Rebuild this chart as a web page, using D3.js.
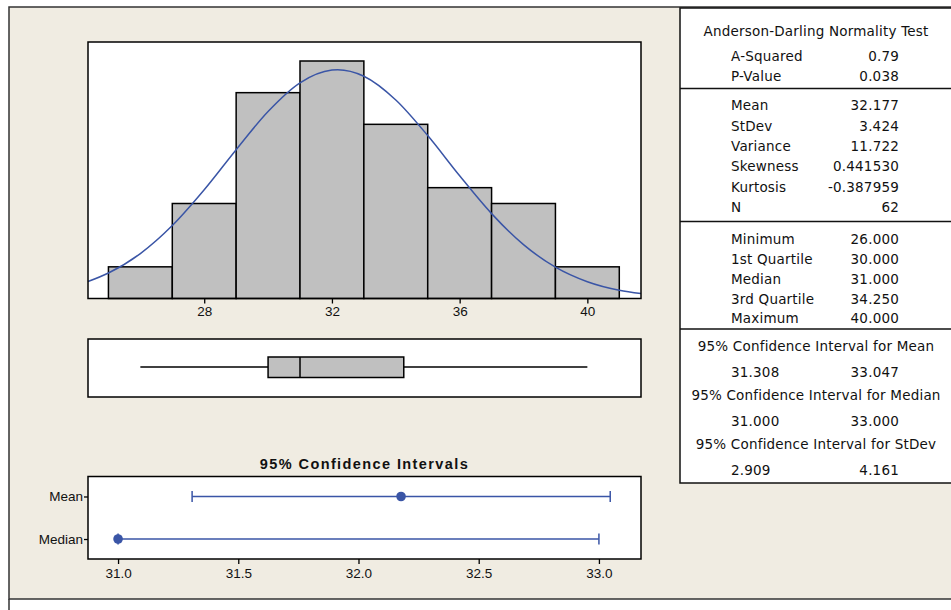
<!DOCTYPE html>
<html>
<head>
<meta charset="utf-8">
<script src="https://cdn.jsdelivr.net/npm/d3@7"></script>
<style>
  body { margin: 0; background: #fff; }
  svg text { fill: #111; }
  .narrow { font-family: "Liberation Sans Narrow", "Arial Narrow", "Liberation Sans", sans-serif; font-size: 13.5px; }
  .tbl { font-family: "DejaVu Sans", Verdana, sans-serif; font-size: 13.5px; letter-spacing: 0.2px; }
</style>
</head>
<body>
<svg id="vis" width="951" height="610"></svg>
<script>
// histogram bins and counts
var binEdges = [25, 27, 29, 31, 33, 35, 37, 39, 41];
var binCounts = [2, 6, 13, 15, 11, 7, 6, 2];
var histTicks = [28, 32, 36, 40];

// fitted normal curve (in counts)
var fitX = [24.36, 25, 26, 27, 28, 29, 30, 31, 32, 32.18, 33, 34, 35, 36, 37, 38, 39, 40, 41, 41.68];
var fitY = [1.07, 1.61, 2.84, 4.61, 6.87, 9.40, 11.81, 13.62, 14.43, 14.45, 14.04, 12.54, 10.29, 7.75, 5.36, 3.40, 1.98, 1.06, 0.52, 0.31];

// boxplot: min, q1, median, q3, max
var boxFive = [26, 30, 31, 34.25, 40];

// confidence intervals
var ciRows = ["Mean", "Median"];
var ciLow = [31.308, 31.0];
var ciHigh = [33.047, 33.0];
var ciPoint = [32.177, 31.0];
var ciTicks = [31.0, 31.5, 32.0, 32.5, 33.0];

// summary table
var adLabels = ["A-Squared", "P-Value"];
var adValues = ["0.79", "0.038"];
var momLabels = ["Mean", "StDev", "Variance", "Skewness", "Kurtosis", "N"];
var momValues = ["32.177", "3.424", "11.722", "0.441530", "-0.387959", "62"];
var qLabels = ["Minimum", "1st Quartile", "Median", "3rd Quartile", "Maximum"];
var qValues = ["26.000", "30.000", "31.000", "34.250", "40.000"];
var ciHeads = ["95% Confidence Interval for Mean", "95% Confidence Interval for Median", "95% Confidence Interval for StDev"];
var ciLoText = ["31.308", "31.000", "2.909"];
var ciHiText = ["33.047", "33.000", "4.161"];

var BLUE = "#3a55a6";
var vis = d3.select("#vis");

// background panel
vis.append("rect").attr("x", 9).attr("y", 7).attr("width", 950).attr("height", 592)
  .attr("fill", "#f0ece2").attr("stroke", "#333").attr("stroke-width", 1.5);
vis.append("line").attr("x1", 9).attr("x2", 9).attr("y1", 599).attr("y2", 610)
  .attr("stroke", "#333").attr("stroke-width", 1.5);

// ---- histogram ----
var H = {left: 88, right: 641, top: 42, bottom: 298.5};
var xScale = d3.scaleLinear().domain([24.36, 41.68]).range([H.left, H.right]);
var yScale = d3.scaleLinear().domain([0, 16.2]).range([H.bottom, H.top]);

vis.append("rect").attr("x", H.left).attr("y", H.top)
  .attr("width", H.right - H.left).attr("height", H.bottom - H.top)
  .attr("fill", "#fff");

vis.selectAll("rect.bar").data(binCounts).enter().append("rect")
  .attr("class", "bar")
  .attr("x", function(d, i) { return xScale(binEdges[i]); })
  .attr("width", function(d, i) { return xScale(binEdges[i + 1]) - xScale(binEdges[i]); })
  .attr("y", function(d) { return yScale(d); })
  .attr("height", function(d) { return yScale(0) - yScale(d); })
  .attr("fill", "#c0c0c0").attr("stroke", "#000").attr("stroke-width", 1.5);

var lineGen = d3.line()
  .x(function(d, i) { return xScale(fitX[i]); })
  .y(function(d) { return yScale(d); })
  .curve(d3.curveMonotoneX);
vis.append("path").attr("d", lineGen(fitY))
  .attr("fill", "none").attr("stroke", BLUE).attr("stroke-width", 1.5);

vis.append("rect").attr("x", H.left).attr("y", H.top)
  .attr("width", H.right - H.left).attr("height", H.bottom - H.top)
  .attr("fill", "none").attr("stroke", "#000").attr("stroke-width", 1.5);

var xAxis = d3.axisBottom(xScale).tickValues(histTicks).tickSize(5).tickPadding(3).tickSizeOuter(0);
var gx = vis.append("g").attr("class", "narrow")
  .attr("transform", "translate(0," + H.bottom + ")").call(xAxis);
gx.select(".domain").remove();
gx.selectAll("line").attr("stroke", "#000").attr("stroke-width", 1.3);
gx.selectAll("text").attr("font-size", 13.5).attr("fill", "#111");

// ---- boxplot ----
var B = {top: 339, bottom: 397, mid: 367, boxTop: 357, boxBot: 377.5};
vis.append("rect").attr("x", H.left).attr("y", B.top)
  .attr("width", H.right - H.left).attr("height", B.bottom - B.top)
  .attr("fill", "#fff").attr("stroke", "#000").attr("stroke-width", 1.5);
vis.append("line").attr("x1", xScale(boxFive[0])).attr("x2", xScale(boxFive[1]))
  .attr("y1", B.mid).attr("y2", B.mid).attr("stroke", "#000").attr("stroke-width", 1.3);
vis.append("line").attr("x1", xScale(boxFive[3])).attr("x2", xScale(boxFive[4]))
  .attr("y1", B.mid).attr("y2", B.mid).attr("stroke", "#000").attr("stroke-width", 1.3);
vis.append("rect").attr("x", xScale(boxFive[1])).attr("y", B.boxTop)
  .attr("width", xScale(boxFive[3]) - xScale(boxFive[1])).attr("height", B.boxBot - B.boxTop)
  .attr("fill", "#c0c0c0").attr("stroke", "#000").attr("stroke-width", 1.5);
vis.append("line").attr("x1", xScale(boxFive[2])).attr("x2", xScale(boxFive[2]))
  .attr("y1", B.boxTop).attr("y2", B.boxBot).attr("stroke", "#000").attr("stroke-width", 1.5);

// ---- confidence intervals ----
var C = {top: 476.5, bottom: 559};
var ciX = d3.scaleLinear().domain([30.875, 33.175]).range([H.left, H.right]);
var ciY = d3.scalePoint().domain(ciRows).range([C.top, C.bottom]).padding(0.47);

vis.append("text").attr("x", (H.left + H.right) / 2).attr("y", 469)
  .attr("text-anchor", "middle")
  .style("font-family", "'Liberation Sans', Arial, sans-serif")
  .style("font-size", "14.5px").style("font-weight", "bold").style("letter-spacing", "1.4px")
  .text("95% Confidence Intervals");

vis.append("rect").attr("x", H.left).attr("y", C.top)
  .attr("width", H.right - H.left).attr("height", C.bottom - C.top)
  .attr("fill", "#fff").attr("stroke", "#000").attr("stroke-width", 1.5);

var ci = vis.selectAll("g.ci").data(ciRows).enter().append("g").attr("class", "ci");
ci.append("line")
  .attr("x1", function(d, i) { return ciX(ciLow[i]); })
  .attr("x2", function(d, i) { return ciX(ciHigh[i]); })
  .attr("y1", function(d) { return ciY(d); }).attr("y2", function(d) { return ciY(d); })
  .attr("stroke", BLUE).attr("stroke-width", 1.5);
ci.append("line")
  .attr("x1", function(d, i) { return ciX(ciLow[i]); })
  .attr("x2", function(d, i) { return ciX(ciLow[i]); })
  .attr("y1", function(d) { return ciY(d) - 5.5; }).attr("y2", function(d) { return ciY(d) + 5.5; })
  .attr("stroke", BLUE).attr("stroke-width", 1.5);
ci.append("line")
  .attr("x1", function(d, i) { return ciX(ciHigh[i]); })
  .attr("x2", function(d, i) { return ciX(ciHigh[i]); })
  .attr("y1", function(d) { return ciY(d) - 5.5; }).attr("y2", function(d) { return ciY(d) + 5.5; })
  .attr("stroke", BLUE).attr("stroke-width", 1.5);
ci.append("circle")
  .attr("cx", function(d, i) { return ciX(ciPoint[i]); })
  .attr("cy", function(d) { return ciY(d); })
  .attr("r", 4.8).attr("fill", BLUE);

var cxAxis = d3.axisBottom(ciX).tickValues(ciTicks).tickFormat(d3.format(".1f"))
  .tickSize(5).tickPadding(4).tickSizeOuter(0);
var gcx = vis.append("g").attr("class", "narrow")
  .attr("transform", "translate(0," + C.bottom + ")").call(cxAxis);
gcx.select(".domain").remove();
gcx.selectAll("line").attr("stroke", "#000").attr("stroke-width", 1.3);
gcx.selectAll("text").attr("font-size", 13.5).attr("fill", "#111");

var cyAxis = d3.axisLeft(ciY).tickSize(4).tickPadding(1).tickSizeOuter(0);
var gcy = vis.append("g").attr("class", "narrow")
  .attr("transform", "translate(" + H.left + ",0)").call(cyAxis);
gcy.select(".domain").remove();
gcy.selectAll("line").attr("stroke", "#000").attr("stroke-width", 1.3);
gcy.selectAll("text").attr("font-size", 13.5).attr("fill", "#111");

// ---- summary table ----
var T = {left: 680, right: 951, top: 8, bottom: 483, labX: 731, valX: 899, mid: 816};
var tbl = vis.append("g").attr("class", "tbl");
tbl.append("rect").attr("x", T.left).attr("y", T.top)
  .attr("width", T.right - T.left + 5).attr("height", T.bottom - T.top)
  .attr("fill", "#fff").attr("stroke", "#111").attr("stroke-width", 1.5);
[88.5, 221.5, 329].forEach(function(yy) {
  tbl.append("line").attr("x1", T.left).attr("x2", T.right).attr("y1", yy).attr("y2", yy)
    .attr("stroke", "#111").attr("stroke-width", 1.5);
});

function rows(labels, values, y0, step) {
  labels.forEach(function(l, i) {
    tbl.append("text").attr("x", T.labX).attr("y", y0 + i * step).attr("dy", "0.35em").text(l);
    tbl.append("text").attr("x", T.valX).attr("y", y0 + i * step).attr("dy", "0.35em")
      .attr("text-anchor", "end").text(values[i]);
  });
}
tbl.append("text").attr("x", T.mid).attr("y", 31).attr("dy", "0.35em")
  .attr("text-anchor", "middle").text("Anderson-Darling Normality Test");
rows(adLabels, adValues, 56, 20.3);
rows(momLabels, momValues, 105.5, 20.4);
rows(qLabels, qValues, 239.5, 19.8);

ciHeads.forEach(function(h, i) {
  var y0 = 346 + i * 49;
  tbl.append("text").attr("x", T.mid).attr("y", y0).attr("dy", "0.35em")
    .attr("text-anchor", "middle").text(h);
  tbl.append("text").attr("x", T.labX).attr("y", y0 + 26.5).attr("dy", "0.35em").text(ciLoText[i]);
  tbl.append("text").attr("x", T.valX).attr("y", y0 + 26.5).attr("dy", "0.35em")
    .attr("text-anchor", "end").text(ciHiText[i]);
});
</script>
</body>
</html>
